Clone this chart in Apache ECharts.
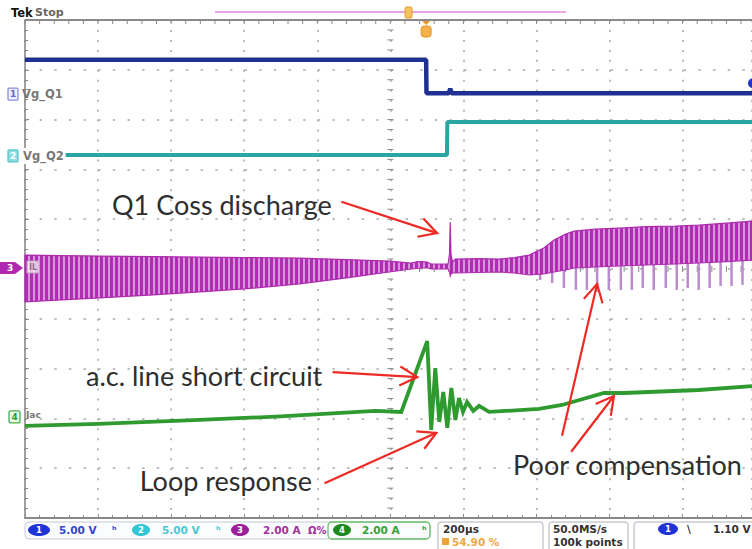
<!DOCTYPE html>
<html>
<head>
<meta charset="utf-8">
<script src="https://cdn.jsdelivr.net/npm/echarts@6/dist/echarts.min.js"></script>
<style>
html, body { margin: 0; padding: 0; background: #ffffff; }
#chart { width: 752px; height: 549px; }
</style>
</head>
<body>
<div id="chart"></div>
<script>
// Horizontal axis: time in µs, 200 µs/div, centred on 0 (the screen shows up to ~+990 µs).
// Vertical axis: screen divisions, -5 … +5.
const timeMin = -1000, timeMax = 990, timePerDiv = 200;
const divMin = -5, divMax = 5;

// Channel 1 — Vg_Q1 gate drive (divisions)
const q1Time = [-1000, 98, 99, 160, 164, 168, 990];
const q1Div  = [4.20, 4.20, 3.53, 3.53, 3.62, 3.53, 3.53];

// Channel 2 — Vg_Q2 gate drive (divisions)
const q2Time = [-1000, 155, 156, 990];
const q2Div  = [2.29, 2.29, 2.95, 2.95];

// Channel 3 — inductor current IL, drawn as its ripple envelope (divisions)
const ilTime  = [-1000, -900, -795, -650, -522, -400, -249, -120, -3, 57, 75, 85, 101, 112, 158, 162, 164, 166, 170, 178, 240, 298, 340, 380, 420, 448, 480, 503, 560, 626, 700, 780, 844, 920, 990];
const ilUpper = [0.28, 0.27, 0.26, 0.25, 0.24, 0.23, 0.22, 0.19, 0.16, 0.12, 0.15, 0.15, 0.14, 0.10, 0.10, 0.30, 0.94, 0.30, 0.14, 0.20, 0.21, 0.20, 0.23, 0.28, 0.42, 0.58, 0.70, 0.76, 0.80, 0.82, 0.85, 0.86, 0.88, 0.92, 0.96];
const ilLower = [-0.66, -0.62, -0.58, -0.52, -0.46, -0.40, -0.30, -0.18, -0.06, 0.00, 0.01, 0.02, 0.02, 0.00, 0.00, -0.05, -0.14, -0.10, -0.08, -0.08, -0.07, -0.06, -0.08, -0.12, -0.10, -0.06, -0.02, 0.02, 0.04, 0.06, 0.08, 0.10, 0.12, 0.15, 0.18];
// Downward current spikes once the loop starts to oscillate
const ilSpikeTime   = [410, 443, 475, 508, 538, 566, 598, 631, 661, 691, 721, 754, 784, 814, 844, 874, 904, 934, 964];
const ilSpikeBottom = [-0.22, -0.28, -0.38, -0.42, -0.42, -0.46, -0.42, -0.42, -0.42, -0.38, -0.42, -0.38, -0.42, -0.38, -0.42, -0.38, -0.34, -0.34, -0.32];
const ilSpikeTop = 0.2;

// Channel 4 — line current Iac (divisions)
const iacTime = [-1000, -800, -522, -300, -41, 30, 101, 112, 123, 134, 145, 156, 167, 178, 188, 199, 210, 227, 243, 270, 407, 470, 585, 639, 844, 990];
const iacDiv  = [-3.15, -3.11, -3.03, -2.96, -2.85, -2.87, -1.45, -3.23, -1.99, -3.07, -2.47, -3.19, -2.39, -3.03, -2.59, -2.87, -2.67, -2.85, -2.75, -2.87, -2.81, -2.73, -2.49, -2.49, -2.43, -2.35];

// Channel readout
const chNames   = ['Vg_Q1', 'Vg_Q2', 'IL', 'Iac'];
const chOffsets = [3.51, 2.27, 0.02, -2.97];
const chScales  = ['5.00 V', '5.00 V', '2.00 A', '2.00 A'];
const chColors  = ['#1f2f92', '#2aa5a2', '#b030b0', '#2f9a2f'];
const chBadge   = ['#1f33d6', '#33c6d6', '#9a1f9a', '#1c8a1c'];
const chText    = ['#3344cc', '#48c8d2', '#a4309f', '#34a034'];

// Horizontal / acquisition / trigger readout
const timeBase = '200µs';
const triggerPos = '54.90 %';
const sampleRate = '50.0MS/s';
const recordLen = '100k points';
const trigLevelText = '1.10 V';
const trigLevelVolts = 1.10;

// Annotations: text anchors [time, div] and arrows [fromTime, fromDiv, toTime, toDiv]
const noteTexts  = ['Q1 Coss discharge', 'a.c. line short circuit', 'Loop response', 'Poor compensation'];
const noteAnchor = [[-762, 1.30], [-833, -2.13], [-686, -4.24], [336, -3.92]];
const noteArrows = [
  [-134, 1.35, 128, 0.72],
  [-158, -2.07, 74, -2.17],
  [-180, -4.30, 126, -3.29],
  [470, -3.35, 566, -0.30],
  [495, -3.67, 612, -2.55]
];

const frameGray = '#8a8a8a';
const dotGray = '#a9a9a9';
const noteFont = 'Lato';

// Vertical stripe texture for the switching ripple of IL
function rippleTexture() {
  const c = document.createElement('canvas');
  c.width = 5; c.height = 6;
  const ctx = c.getContext('2d');
  ctx.fillStyle = '#d896da'; ctx.fillRect(0, 0, 5, 6);
  ctx.fillStyle = '#b02cb3'; ctx.fillRect(0, 0, 3, 6);
  return c.toDataURL();
}
const rippleImg = rippleTexture();

const chart = echarts.init(document.getElementById('chart'), null, { renderer: 'svg', width: 752, height: 549 });

chart.setOption({
  animation: false,
  backgroundColor: '#ffffff',
  grid: { left: 25, top: 20, width: 728.5, height: 498, show: false },
  xAxis: {
    type: 'value', min: timeMin, max: timeMax, interval: timePerDiv,
    axisLabel: { show: false },
    axisLine: { show: true, onZero: false, lineStyle: { color: frameGray, width: 2 } },
    axisTick: { show: true, inside: true, length: 4, lineStyle: { color: frameGray } },
    minorTick: { show: true, splitNumber: 5, length: 3, lineStyle: { color: frameGray } },
    splitLine: { show: true, lineStyle: { color: dotGray, width: 1.6, type: [2, 7.96] } }
  },
  yAxis: {
    type: 'value', min: divMin, max: divMax, interval: 1,
    axisLabel: { show: false },
    axisLine: { show: true, onZero: false, lineStyle: { color: frameGray, width: 1.6 } },
    axisTick: { show: true, inside: true, length: 4, lineStyle: { color: frameGray } },
    minorTick: { show: true, splitNumber: 5, length: 3, lineStyle: { color: frameGray } },
    splitLine: { show: true, lineStyle: { color: dotGray, width: 1.6, type: [2.4, 12.24] } }
  },
  series: [
    {
      name: 'IL spikes', type: 'custom', silent: true, z: 2,
      data: ilSpikeTime.map((t, i) => [t, ilSpikeBottom[i]]),
      renderItem(params, api) {
        const a = api.coord([api.value(0), ilSpikeTop]);
        const b = api.coord([api.value(0), api.value(1)]);
        return { type: 'line', shape: { x1: a[0], y1: a[1], x2: b[0], y2: b[1] },
          style: { stroke: '#bb8ccd', lineWidth: 2.5 } };
      }
    },
    {
      name: 'IL', type: 'custom', silent: true, z: 3,
      data: [[ilTime[0], ilUpper[0]]],
      renderItem(params, api) {
        const pts = [];
        for (let i = 0; i < ilTime.length; i++) pts.push(api.coord([ilTime[i], ilUpper[i]]));
        for (let i = ilTime.length - 1; i >= 0; i--) pts.push(api.coord([ilTime[i], ilLower[i]]));
        return { type: 'polygon', shape: { points: pts },
          style: { fill: { image: rippleImg, repeat: 'repeat' }, stroke: '#ad2cae', lineWidth: 1.2 } };
      }
    },
    {
      name: 'Vg_Q1', type: 'line', symbol: 'none', z: 4,
      data: q1Time.map((t, i) => [t, q1Div[i]]),
      lineStyle: { color: chColors[0], width: 4.5 }
    },
    {
      name: 'Vg_Q2', type: 'line', symbol: 'none', z: 4,
      data: q2Time.map((t, i) => [t, q2Div[i]]),
      lineStyle: { color: chColors[1], width: 4 }
    },
    {
      name: 'Iac', type: 'line', symbol: 'none', z: 4,
      data: iacTime.map((t, i) => [t, iacDiv[i]]),
      lineStyle: { color: chColors[3], width: 3.8, join: 'miter' }
    },
    {
      name: 'arrows', type: 'custom', silent: true, z: 6,
      data: noteArrows,
      renderItem(params, api) {
        const p0 = api.coord([api.value(0), api.value(1)]);
        const p1 = api.coord([api.value(2), api.value(3)]);
        const ang = Math.atan2(p1[1] - p0[1], p1[0] - p0[0]);
        const len = 20, spread = 0.5;
        const armA = [p1[0] - len * Math.cos(ang + spread), p1[1] - len * Math.sin(ang + spread)];
        const armB = [p1[0] - len * Math.cos(ang - spread), p1[1] - len * Math.sin(ang - spread)];
        const style = { stroke: '#ee2a24', lineWidth: 2.2, fill: null, lineJoin: 'miter' };
        return { type: 'group', children: [
          { type: 'polyline', shape: { points: [p0, p1] }, style },
          { type: 'polyline', shape: { points: [armA, p1, armB] }, style }
        ] };
      }
    },
    {
      name: 'notes', type: 'custom', silent: true, z: 7,
      data: noteAnchor,
      renderItem(params, api) {
        const p = api.coord([api.value(0), api.value(1)]);
        return { type: 'text', x: p[0], y: p[1],
          style: { text: noteTexts[params.dataIndex], fill: '#2e2e2e',
            fontFamily: noteFont, fontSize: 27, align: 'left', verticalAlign: 'middle' } };
      }
    }
  ]
});

function px(t, d) { return chart.convertToPixel({ gridIndex: 0 }, [t, d]); }
const under = [];   // graticule pieces drawn beneath the traces
const g = [];       // instrument readouts drawn above everything

// ---- Frame top edge and crosshair ticks ----
const tl = px(timeMin, divMax), bl = px(timeMin, divMin);
under.push({ type: 'rect', shape: { x: tl[0], y: tl[1] - 1, width: 760 - tl[0], height: 2 }, style: { fill: frameGray } });
const ctr = px(0, 0);
const divH = px(0, 0)[1] - px(0, 1)[1];
const divW = px(timePerDiv, 0)[0] - ctr[0];
for (let y = tl[1]; y <= bl[1] + 0.5; y += divH / 5) {
  under.push({ type: 'rect', shape: { x: ctr[0] - 3, y: y - 0.5, width: 6, height: 1 }, style: { fill: frameGray } });
}
for (let x = tl[0]; x <= 752; x += divW / 5) {
  under.push({ type: 'rect', shape: { x: x - 0.5, y: ctr[1] - 3, width: 1, height: 6 }, style: { fill: frameGray } });
  under.push({ type: 'rect', shape: { x: x - 0.5, y: tl[1], width: 1, height: 4 }, style: { fill: frameGray } });
}

// ---- Instrument chrome: channel markers, top status and bottom readout ----
const stat = { fontFamily: 'DejaVu Sans', fontWeight: 'bold', fontSize: 10.5 };

// Top line: "Tek Stop", record bar, trigger position and expansion markers
g.push({ type: 'text', x: 11, y: 7, style: { text: 'Tek', fill: '#111', fontFamily: 'DejaVu Sans', fontWeight: 'bold', fontSize: 11.5 } });
g.push({ type: 'text', x: 35, y: 7, style: { text: 'Stop', fill: '#666', fontFamily: 'DejaVu Sans', fontWeight: 'bold', fontSize: 11 } });
g.push({ type: 'rect', shape: { x: 215, y: 11, width: 351, height: 2 }, style: { fill: '#e6a6e6' } });
g.push({ type: 'rect', shape: { x: 405, y: 7, width: 7, height: 11, r: 1.5 }, style: { fill: '#f6c060', stroke: '#e59a2a', lineWidth: 1 } });
const expX = px(98, 0)[0];
g.push({ type: 'polygon', shape: { points: [[expX - 4, 21], [expX + 4, 21], [expX, 25]] }, style: { fill: '#e8962a' } });
g.push({ type: 'rect', shape: { x: expX - 5, y: 26, width: 10, height: 11, r: 3 }, style: { fill: '#f6b24a', stroke: '#e8962a', lineWidth: 1 } });

// Ground markers and channel labels
const gy = chOffsets.map(o => px(timeMin, o)[1]);
// ch1
g.push({ type: 'rect', shape: { x: 8, y: gy[0] - 6, width: 10, height: 12, r: 1 }, style: { fill: '#eef0ff', stroke: '#8c8ee0', lineWidth: 1.3 } });
g.push({ type: 'text', x: 13, y: gy[0], style: { text: '1', fill: '#6466c8', fontFamily: 'DejaVu Sans', fontWeight: 'bold', fontSize: 9, align: 'center', verticalAlign: 'middle' } });
g.push({ type: 'text', x: 22, y: gy[0], style: { text: chNames[0], fill: '#777', fontFamily: 'DejaVu Sans', fontWeight: 'bold', fontSize: 11.5, verticalAlign: 'middle' } });
// ch2
g.push({ type: 'rect', shape: { x: 8, y: gy[1] - 6, width: 10, height: 12, r: 1 }, style: { fill: '#8fdde2', stroke: '#5cc6cc', lineWidth: 1.3 } });
g.push({ type: 'text', x: 13, y: gy[1], style: { text: '2', fill: '#ffffff', fontFamily: 'DejaVu Sans', fontWeight: 'bold', fontSize: 9, align: 'center', verticalAlign: 'middle' } });
g.push({ type: 'text', x: 20, y: gy[1], style: { text: chNames[1], fill: '#777', fontFamily: 'DejaVu Sans', fontWeight: 'bold', fontSize: 11.5, verticalAlign: 'middle', backgroundColor: '#ffffff', padding: [2, 2, 2, 3] } });
// ch3
g.push({ type: 'polygon', shape: { points: [[0, gy[2] - 6], [15, gy[2] - 6], [23, gy[2]], [15, gy[2] + 6], [0, gy[2] + 6]] }, style: { fill: '#b028b0' } });
g.push({ type: 'text', x: 10, y: gy[2], style: { text: '3', fill: '#ffffff', fontFamily: 'DejaVu Sans', fontWeight: 'bold', fontSize: 9, align: 'center', verticalAlign: 'middle' } });
g.push({ type: 'rect', shape: { x: 27, y: gy[2] - 7, width: 12, height: 12 }, style: { fill: 'rgba(255,255,255,0.7)', stroke: '#b9a3b9', lineWidth: 1 } });
g.push({ type: 'text', x: 33, y: gy[2] - 1, style: { text: chNames[2], fill: '#8a6a8a', fontFamily: 'DejaVu Sans', fontWeight: 'bold', fontSize: 8, align: 'center', verticalAlign: 'middle' } });
// ch4
g.push({ type: 'rect', shape: { x: 9, y: gy[3] - 6, width: 11, height: 12, r: 2 }, style: { fill: '#eafaea', stroke: '#49b049', lineWidth: 1.3 } });
g.push({ type: 'text', x: 14.5, y: gy[3], style: { text: '4', fill: '#2f9a2f', fontFamily: 'DejaVu Sans', fontWeight: 'bold', fontSize: 9, align: 'center', verticalAlign: 'middle' } });
g.push({ type: 'text', x: 26, y: gy[3] - 2, style: { text: chNames[3], fill: '#777', fontFamily: 'DejaVu Sans', fontWeight: 'bold', fontSize: 9, verticalAlign: 'middle' } });

// Trigger level marker at the right edge (channel 1 reference + level)
const trigY = px(timeMax, chOffsets[0] + trigLevelVolts / 5)[1];
g.push({ type: 'circle', shape: { cx: 753, cy: trigY, r: 5 }, style: { fill: '#2433c8' } });

// Bottom readout: channel row
g.push({ type: 'rect', shape: { x: 25, y: 522, width: 405, height: 17, r: 4 }, style: { fill: '#fbfcfd', stroke: '#c3cad3', lineWidth: 1 } });
g.push({ type: 'rect', shape: { x: 328, y: 522, width: 102, height: 17, r: 4 }, style: { fill: 'none', stroke: '#6cc06c', lineWidth: 1.3 } });
const badgeX = [39, 141, 240, 342];
const scaleX = [59, 162, 263, 362];
const markX = [112, 216, 308, 422];
const markTxt = ['ʰ', 'ʰ', 'Ω%', 'ʰ'];
for (let i = 0; i < 4; i++) {
  g.push({ type: 'ellipse', shape: { cx: badgeX[i], cy: 530, rx: i === 0 ? 11 : 9, ry: 6 }, style: { fill: chBadge[i] } });
  g.push({ type: 'text', x: badgeX[i], y: 530, style: { text: String(i + 1), fill: '#ffffff', fontFamily: 'DejaVu Sans', fontWeight: 'bold', fontSize: 8.5, align: 'center', verticalAlign: 'middle' } });
  g.push({ type: 'text', x: scaleX[i], y: 530, style: Object.assign({ text: chScales[i], fill: chText[i], verticalAlign: 'middle' }, stat) });
  g.push({ type: 'text', x: markX[i], y: 530, style: Object.assign({ text: markTxt[i], fill: chText[i], verticalAlign: 'middle' }, stat, { fontSize: 10 }) });
}

// Horizontal readout
g.push({ type: 'rect', shape: { x: 438, y: 522, width: 105, height: 30, r: 3 }, style: { fill: '#ffffff', stroke: '#aab2bb', lineWidth: 1 } });
g.push({ type: 'text', x: 443, y: 529, style: Object.assign({ text: timeBase, fill: '#333', verticalAlign: 'middle' }, stat) });
g.push({ type: 'rect', shape: { x: 442, y: 538, width: 7, height: 7 }, style: { fill: '#f0a23a' } });
g.push({ type: 'text', x: 452, y: 542, style: Object.assign({ text: triggerPos, fill: '#f0a844', verticalAlign: 'middle' }, stat) });

// Acquisition readout
g.push({ type: 'rect', shape: { x: 549, y: 522, width: 79, height: 30, r: 3 }, style: { fill: '#ffffff', stroke: '#aab2bb', lineWidth: 1 } });
g.push({ type: 'text', x: 553, y: 529, style: Object.assign({ text: sampleRate, fill: '#333', verticalAlign: 'middle' }, stat) });
g.push({ type: 'text', x: 553, y: 542, style: Object.assign({ text: recordLen, fill: '#333', verticalAlign: 'middle' }, stat) });

// Trigger readout
g.push({ type: 'rect', shape: { x: 634, y: 522, width: 130, height: 30, r: 3 }, style: { fill: '#ffffff', stroke: '#aab2bb', lineWidth: 1 } });
g.push({ type: 'ellipse', shape: { cx: 668, cy: 529, rx: 10, ry: 6 }, style: { fill: chBadge[0] } });
g.push({ type: 'text', x: 668, y: 529, style: { text: '1', fill: '#ffffff', fontFamily: 'DejaVu Sans', fontWeight: 'bold', fontSize: 8.5, align: 'center', verticalAlign: 'middle' } });
g.push({ type: 'text', x: 687, y: 529, style: Object.assign({ text: '\\', fill: '#333', verticalAlign: 'middle' }, stat) });
g.push({ type: 'text', x: 713, y: 529, style: Object.assign({ text: trigLevelText, fill: '#333', verticalAlign: 'middle' }, stat) });

chart.setOption({
  graphic: under.map(e => Object.assign({ silent: true, z: 0 }, e))
    .concat(g.map(e => Object.assign({ silent: true, z: 100 }, e)))
});
</script>
</body>
</html>
